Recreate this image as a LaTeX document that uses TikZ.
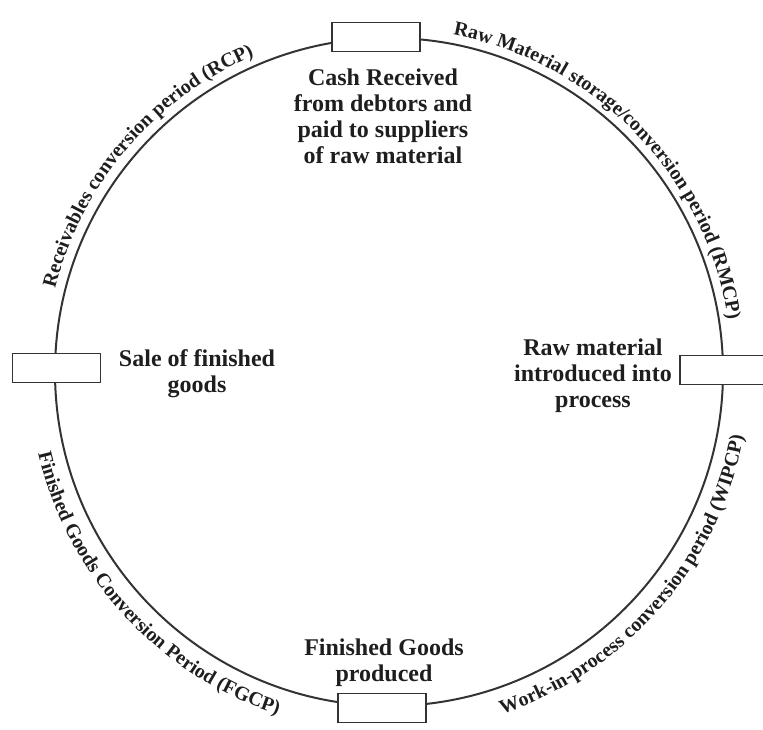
\documentclass[tikz,border=0pt]{standalone}
\usepackage{fontspec}
\setmainfont{Liberation Serif}
\usetikzlibrary{decorations.text}
\definecolor{ink}{HTML}{1E1E1E}
\definecolor{ring}{HTML}{333333}
\newcommand\boxfont{\fontsize{24}{26}\selectfont\bfseries}
\newcommand\arcfont{\fontsize{20}{24}\selectfont\bfseries}
\begin{document}
\begin{tikzpicture}[x=1pt,y=1pt,
  stagebox/.style={draw=ring, line width=1.8pt, fill=white,
    minimum width=88pt, minimum height=29pt, inner sep=0pt},
  caption/.style={font=\boxfont, text=ink, align=center, inner sep=0pt},
  arclabel/.style={decorate, decoration={text along path,
    text align=center, text color=ink}}]
\useasboundingbox (0,0) rectangle (763,730);

% the operating cycle
\coordinate (c) at (389,358);
\draw[ring, line width=2pt] (c) circle[radius=334];

% stages on the cycle
\node[stagebox] (cashbox) at (376,693) {};
\node[stagebox] (salebox) at (56.5,362) {};
\node[stagebox, minimum width=90pt] (rawbox) at (725,360) {};
\node[stagebox] (goodsbox) at (382,22) {};

% stage captions
\node[caption] (cash) at (383,614)
  {Cash Received\\from debtors and\\paid to suppliers\\of raw material};
\node[caption] (sale) at (197,356.5) {Sale of finished\\goods};
\node[caption] (raw) at (593,354) {Raw material\\introduced into\\process};
\node[caption] (goods) at (384,67) {Finished Goods\\produced};

% conversion periods along the cycle
\path[arclabel, decoration={text={|\arcfont|Receivables conversion period (RCP)}}]
  ([shift={(c)}]184.5:344) arc[start angle=184.5, end angle=94.5, radius=344];
\path[arclabel, decoration={text={|\arcfont|Raw Material storage/conversion period (RMCP)}}]
  ([shift={(c)}]89:343) arc[start angle=89, end angle=-1, radius=343];
\path[arclabel, decoration={text={|\arcfont|Finished Goods Conversion Period (FGCP)}}]
  ([shift={(c)}]177.5:360) arc[start angle=177.5, end angle=267.5, radius=360];
\path[arclabel, decoration={text={|\arcfont|Work-in-process conversion period (WIPCP)}}]
  ([shift={(c)}]274:360) arc[start angle=274, end angle=364, radius=360];
\end{tikzpicture}
\end{document}
